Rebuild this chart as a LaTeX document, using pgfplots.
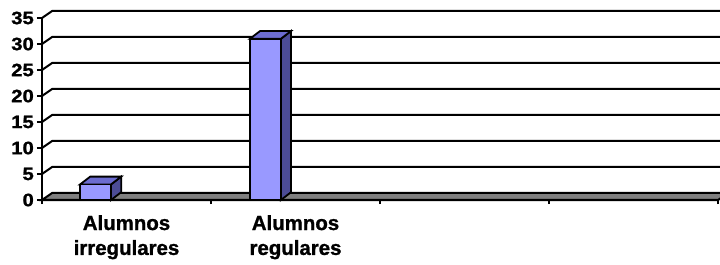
\documentclass[border=0pt]{standalone}
\usepackage{pgfplots}
\pgfplotsset{compat=1.18}
\usepackage{fontspec}
\setmainfont{Liberation Sans}[BoldFont={Liberation Sans Bold}]
\newfontfamily\tickfont{Liberation Sans Bold}[FakeStretch=1.13, FakeBold=1.2]
\newfontfamily\labelfont{Liberation Sans Bold}[FakeBold=1.2]
\definecolor{barfront}{RGB}{153,153,255}
\definecolor{bartop}{RGB}{108,108,208}
\definecolor{barside}{RGB}{76,76,150}
\definecolor{floorgray}{RGB}{128,128,128}
\begin{document}
\begin{tikzpicture}
\path[use as bounding box] (0,0) rectangle (720bp,265bp);
\begin{axis}[
  at={(42bp,65bp)}, anchor=south west,
  scale only axis, width=676bp, height=182bp,
  xmin=0, xmax=4, ymin=0, ymax=35,
  clip=false,
  axis x line*=bottom, axis y line*=left,
  axis line style={line width=2bp, black},
  tick align=outside,
  major tick length=5bp,
  tick style={line width=1.8bp, black},
  ytick={0,5,...,35},
  yticklabels={0,5,10,15,20,25,30,35},
  yticklabel style={font=\tickfont\fontsize{18}{18}\selectfont, inner sep=0pt, xshift=-3bp},
  xtick={0,1,2,3,4},
  xticklabels={},
  xtick style={/pgfplots/major tick length=4bp},
  extra x ticks={0.5,1.5},
  extra x tick labels={Alumnos\\irregulares, Alumnos\\regulares},
  extra x tick style={major tick length=0pt, tick style={draw=none}},
  xticklabel style={font=\labelfont\fontsize{20.5}{25}\selectfont, align=center, anchor=north, inner sep=0pt, yshift=-15bp},
]
% floor
\addplot[fill=floorgray, draw=black, line width=2bp] coordinates {(0,0) (4,0) (4.06,1.35) (0.06,1.35)} --cycle;
% back-wall gridlines with left-wall diagonals
\addplot[black, line width=2bp] coordinates {(0,5) (0.06,6.35) (4.1,6.35)};
\addplot[black, line width=2bp] coordinates {(0,10) (0.06,11.35) (4.1,11.35)};
\addplot[black, line width=2bp] coordinates {(0,15) (0.06,16.35) (4.1,16.35)};
\addplot[black, line width=2bp] coordinates {(0,20) (0.06,21.35) (4.1,21.35)};
\addplot[black, line width=2bp] coordinates {(0,25) (0.06,26.35) (4.1,26.35)};
\addplot[black, line width=2bp] coordinates {(0,30) (0.06,31.35) (4.1,31.35)};
\addplot[black, line width=2bp] coordinates {(0,35) (0.06,36.35) (4.1,36.35)};
% bar side faces
\addplot[fill=barside, draw=black, line width=1.8bp] coordinates {(0.4085,0) (0.4685,1.5) (0.4685,4.5) (0.4085,3)} --cycle;
\addplot[fill=barside, draw=black, line width=1.8bp] coordinates {(1.4135,0) (1.4735,1.5) (1.4735,32.5) (1.4135,31)} --cycle;
% bar top faces
\addplot[fill=bartop, draw=black, line width=1.8bp] coordinates {(0.2255,3) (0.4085,3) (0.4685,4.5) (0.2855,4.5)} --cycle;
\addplot[fill=bartop, draw=black, line width=1.8bp] coordinates {(1.2305,31) (1.4135,31) (1.4735,32.5) (1.2905,32.5)} --cycle;
% bar front faces
\addplot[ybar, bar width=0.183, fill=barfront, draw=black, line width=1.8bp] coordinates {(0.317,3) (1.322,31)};
\end{axis}
\end{tikzpicture}
\end{document}
